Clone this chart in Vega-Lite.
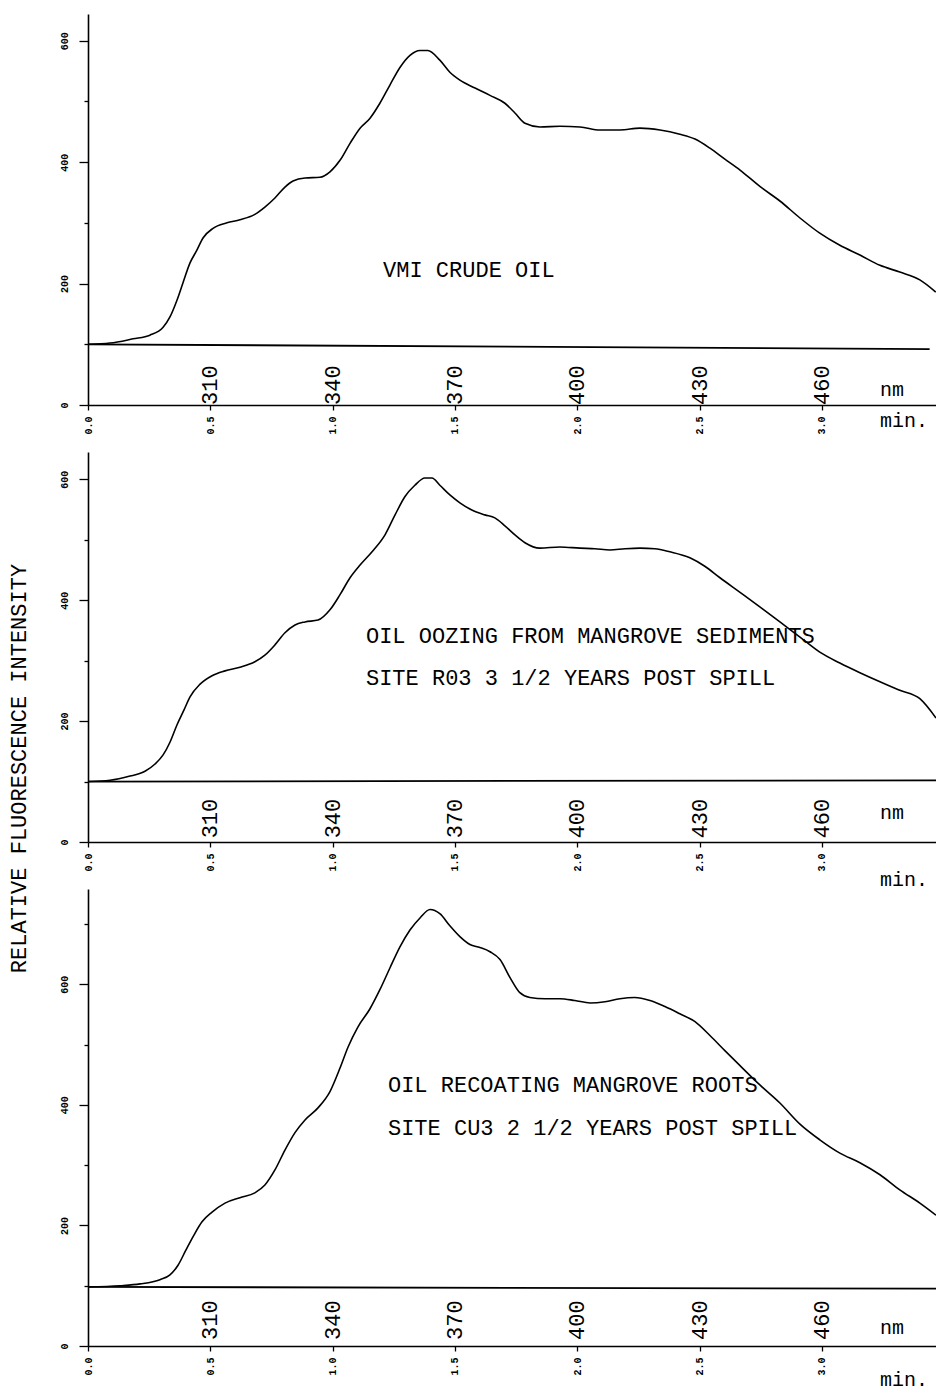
{
  "$schema": "https://vega.github.io/schema/vega-lite/v6.json",
  "background": "white",
  "padding": {"left": 7, "top": 14, "right": 0, "bottom": 0},
  "bounds": "flush",
  "spacing": 47,
  "config": {
    "view": {"stroke": null},
    "axis": {
      "domainColor": "black", "domainWidth": 1.6, "tickColor": "black", "tickWidth": 1.3,
      "labelColor": "black", "labelFont": "Liberation Mono", "labelFontSize": 10, "labelFontWeight": "bold",
      "grid": false, "labelOverlap": false, "labelFlush": false, "titleColor": "black"
    }
  },
  "datasets": {
    "vmi": [
      {"t":0,"v":100},{"t":0.090,"v":102},{"t":0.184,"v":109},{"t":0.253,"v":115},{"t":0.307,"v":128},{"t":0.335,"v":145},{"t":0.364,"v":173},{"t":0.388,"v":201},{"t":0.417,"v":234},{"t":0.445,"v":255},{"t":0.470,"v":275},{"t":0.511,"v":291},{"t":0.568,"v":300},{"t":0.621,"v":305},{"t":0.682,"v":314},{"t":0.723,"v":326},{"t":0.764,"v":341},{"t":0.805,"v":359},{"t":0.838,"v":369},{"t":0.887,"v":374},{"t":0.948,"v":375},{"t":0.989,"v":384},{"t":1.030,"v":403},{"t":1.071,"v":431},{"t":1.112,"v":456},{"t":1.152,"v":472},{"t":1.193,"v":497},{"t":1.234,"v":527},{"t":1.275,"v":556},{"t":1.316,"v":576},{"t":1.357,"v":584},{"t":1.389,"v":584},{"t":1.438,"v":568},{"t":1.479,"v":548},{"t":1.520,"v":535},{"t":1.582,"v":522},{"t":1.643,"v":510},{"t":1.704,"v":497},{"t":1.745,"v":481},{"t":1.786,"v":464},{"t":1.847,"v":458},{"t":1.929,"v":459},{"t":2.011,"v":458},{"t":2.092,"v":453},{"t":2.174,"v":453},{"t":2.256,"v":456},{"t":2.338,"v":453},{"t":2.419,"v":446},{"t":2.481,"v":438},{"t":2.542,"v":423},{"t":2.603,"v":405},{"t":2.665,"v":387},{"t":2.746,"v":360},{"t":2.828,"v":336},{"t":2.910,"v":308},{"t":2.991,"v":283},{"t":3.073,"v":263},{"t":3.155,"v":247},{"t":3.237,"v":230},{"t":3.318,"v":219},{"t":3.400,"v":206},{"t":3.465,"v":186}
    ],
    "r03": [
      {"t":0,"v":100},{"t":0.090,"v":102},{"t":0.172,"v":109},{"t":0.233,"v":117},{"t":0.274,"v":129},{"t":0.307,"v":144},{"t":0.335,"v":165},{"t":0.364,"v":194},{"t":0.392,"v":218},{"t":0.417,"v":240},{"t":0.458,"v":261},{"t":0.507,"v":275},{"t":0.560,"v":283},{"t":0.621,"v":289},{"t":0.682,"v":298},{"t":0.723,"v":309},{"t":0.764,"v":326},{"t":0.805,"v":346},{"t":0.846,"v":359},{"t":0.887,"v":364},{"t":0.940,"v":367},{"t":0.989,"v":384},{"t":1.030,"v":409},{"t":1.071,"v":437},{"t":1.112,"v":458},{"t":1.161,"v":480},{"t":1.214,"v":508},{"t":1.255,"v":541},{"t":1.295,"v":571},{"t":1.336,"v":590},{"t":1.377,"v":602},{"t":1.406,"v":602},{"t":1.438,"v":590},{"t":1.479,"v":574},{"t":1.520,"v":561},{"t":1.569,"v":549},{"t":1.622,"v":541},{"t":1.663,"v":536},{"t":1.704,"v":523},{"t":1.745,"v":508},{"t":1.786,"v":495},{"t":1.847,"v":486},{"t":1.929,"v":488},{"t":2.011,"v":486},{"t":2.072,"v":485},{"t":2.133,"v":483},{"t":2.195,"v":485},{"t":2.256,"v":486},{"t":2.317,"v":485},{"t":2.378,"v":480},{"t":2.460,"v":470},{"t":2.521,"v":456},{"t":2.583,"v":437},{"t":2.665,"v":413},{"t":2.746,"v":389},{"t":2.828,"v":364},{"t":2.910,"v":339},{"t":2.991,"v":314},{"t":3.073,"v":296},{"t":3.155,"v":280},{"t":3.237,"v":265},{"t":3.318,"v":251},{"t":3.400,"v":237},{"t":3.466,"v":205}
    ],
    "cu3": [
      {"t":0,"v":98},{"t":0.131,"v":100},{"t":0.213,"v":103},{"t":0.294,"v":110},{"t":0.335,"v":118},{"t":0.368,"v":134},{"t":0.400,"v":159},{"t":0.433,"v":184},{"t":0.466,"v":206},{"t":0.507,"v":222},{"t":0.560,"v":237},{"t":0.621,"v":246},{"t":0.682,"v":254},{"t":0.723,"v":267},{"t":0.764,"v":292},{"t":0.805,"v":325},{"t":0.846,"v":354},{"t":0.887,"v":375},{"t":0.940,"v":395},{"t":0.989,"v":422},{"t":1.030,"v":461},{"t":1.063,"v":496},{"t":1.103,"v":529},{"t":1.152,"v":559},{"t":1.193,"v":591},{"t":1.234,"v":627},{"t":1.275,"v":662},{"t":1.316,"v":690},{"t":1.357,"v":710},{"t":1.398,"v":724},{"t":1.438,"v":717},{"t":1.479,"v":697},{"t":1.520,"v":679},{"t":1.561,"v":666},{"t":1.602,"v":661},{"t":1.643,"v":654},{"t":1.684,"v":641},{"t":1.725,"v":611},{"t":1.765,"v":586},{"t":1.806,"v":578},{"t":1.868,"v":576},{"t":1.929,"v":576},{"t":1.990,"v":573},{"t":2.052,"v":569},{"t":2.113,"v":571},{"t":2.174,"v":576},{"t":2.235,"v":578},{"t":2.297,"v":573},{"t":2.358,"v":563},{"t":2.419,"v":551},{"t":2.481,"v":538},{"t":2.542,"v":515},{"t":2.603,"v":490},{"t":2.665,"v":465},{"t":2.746,"v":433},{"t":2.828,"v":403},{"t":2.910,"v":368},{"t":2.991,"v":342},{"t":3.073,"v":320},{"t":3.155,"v":304},{"t":3.237,"v":284},{"t":3.318,"v":259},{"t":3.400,"v":237},{"t":3.466,"v":217}
    ],
    "nm": [
      {"t":0.5,"nm":"310"},{"t":1.0,"nm":"340"},{"t":1.5,"nm":"370"},{"t":2.0,"nm":"400"},{"t":2.5,"nm":"430"},{"t":3.0,"nm":"460"}
    ]
  },
  "vconcat": [
    {
      "width": 848, "height": 391,
      "layer": [
        {
          "data": {"name": "vmi"},
          "mark": {"type": "line", "color": "black", "strokeWidth": 1.6, "interpolate": "monotone"},
          "encoding": {
            "x": {"field": "t", "type": "quantitative", "scale": {"domain": [0, 3.466], "nice": false, "zero": false},
                  "axis": {"title": null, "values": [0, 0.5, 1, 1.5, 2, 2.5, 3], "format": ".1f", "labelAngle": 270, "tickSize": 5, "labelPadding": 6}},
            "y": {"field": "v", "type": "quantitative", "scale": {"domain": [0, 644], "nice": false},
                  "axis": {"title": null, "values": [0,50,100,150,200,250,300,350,400,450,500,550,600],
                           "labelExpr": "datum.value % 200 === 0 ? datum.label : ''",
                           "tickSize": {"condition": {"test": "datum.value % 200 === 0", "value": 9}, "value": 4},
                           "labelAngle": 270, "labelAlign": "center", "labelBaseline": "bottom", "labelPadding": 10}}
          }
        },
        {
          "data": {"values": [{}]},
          "mark": {"type": "rule", "color": "black", "strokeWidth": 1.8},
          "encoding": {"x": {"datum": 0, "type": "quantitative"}, "x2": {"datum": 3.44}, "y": {"datum": 100, "type": "quantitative"}, "y2": {"datum": 92}}
        },
        {
          "data": {"name": "nm"},
          "mark": {"type": "text", "angle": 270, "align": "left", "baseline": "middle", "font": "Liberation Mono", "fontSize": 22, "color": "black"},
          "encoding": {"x": {"field": "t", "type": "quantitative"}, "y": {"datum": 0, "type": "quantitative"}, "text": {"field": "nm"}}
        },
        {
          "data": {"values": [{}]},
          "mark": {"type": "text", "align": "center", "baseline": "middle", "font": "Liberation Mono", "fontSize": 20, "color": "black"},
          "encoding": {"x": {"datum": 3.286, "type": "quantitative"}, "y": {"datum": 25, "type": "quantitative"}, "text": {"value": "nm"}}
        },
        {
          "data": {"values": [{}]},
          "mark": {"type": "text", "align": "center", "baseline": "middle", "font": "Liberation Mono", "fontSize": 20, "color": "black"},
          "encoding": {"x": {"datum": 3.335, "type": "quantitative"}, "y": {"datum": -26, "type": "quantitative"}, "text": {"value": "min."}}
        },
        {
          "data": {"values": [{}]},
          "mark": {"type": "text", "align": "left", "baseline": "middle", "font": "Liberation Mono", "fontSize": 22, "color": "black"},
          "encoding": {"x": {"datum": 1.206, "type": "quantitative"}, "y": {"datum": 222, "type": "quantitative"}, "text": {"value": "VMI CRUDE OIL"}}
        }
      ]
    },
    {
      "width": 848, "height": 390,
      "layer": [
        {
          "data": {"name": "r03"},
          "mark": {"type": "line", "color": "black", "strokeWidth": 1.6, "interpolate": "monotone"},
          "encoding": {
            "x": {"field": "t", "type": "quantitative", "scale": {"domain": [0, 3.466], "nice": false, "zero": false},
                  "axis": {"title": null, "values": [0, 0.5, 1, 1.5, 2, 2.5, 3], "format": ".1f", "labelAngle": 270, "tickSize": 5, "labelPadding": 6}},
            "y": {"field": "v", "type": "quantitative", "scale": {"domain": [0, 645], "nice": false},
                  "axis": {"title": "RELATIVE FLUORESCENCE INTENSITY", "titleFont": "Liberation Mono", "titleFontSize": 22, "titleFontWeight": "normal",
                           "titleAngle": 270, "titleX": -70, "titleY": 316, "titleAlign": "center", "titleBaseline": "middle",
                           "values": [0,50,100,150,200,250,300,350,400,450,500,550,600],
                           "labelExpr": "datum.value % 200 === 0 ? datum.label : ''",
                           "tickSize": {"condition": {"test": "datum.value % 200 === 0", "value": 9}, "value": 4},
                           "labelAngle": 270, "labelAlign": "center", "labelBaseline": "bottom", "labelPadding": 10}}
          }
        },
        {
          "data": {"values": [{}]},
          "mark": {"type": "rule", "color": "black", "strokeWidth": 1.8},
          "encoding": {"x": {"datum": 0, "type": "quantitative"}, "x2": {"datum": 3.466}, "y": {"datum": 100, "type": "quantitative"}, "y2": {"datum": 102}}
        },
        {
          "data": {"name": "nm"},
          "mark": {"type": "text", "angle": 270, "align": "left", "baseline": "middle", "font": "Liberation Mono", "fontSize": 22, "color": "black"},
          "encoding": {"x": {"field": "t", "type": "quantitative"}, "y": {"datum": 6, "type": "quantitative"}, "text": {"field": "nm"}}
        },
        {
          "data": {"values": [{}]},
          "mark": {"type": "text", "align": "center", "baseline": "middle", "font": "Liberation Mono", "fontSize": 20, "color": "black"},
          "encoding": {"x": {"datum": 3.286, "type": "quantitative"}, "y": {"datum": 48, "type": "quantitative"}, "text": {"value": "nm"}}
        },
        {
          "data": {"values": [{}]},
          "mark": {"type": "text", "align": "center", "baseline": "middle", "font": "Liberation Mono", "fontSize": 20, "color": "black"},
          "encoding": {"x": {"datum": 3.335, "type": "quantitative"}, "y": {"datum": -63, "type": "quantitative"}, "text": {"value": "min."}}
        },
        {
          "data": {"values": [{}]},
          "mark": {"type": "text", "align": "left", "baseline": "middle", "font": "Liberation Mono", "fontSize": 22, "color": "black"},
          "encoding": {"x": {"datum": 1.136, "type": "quantitative"}, "y": {"datum": 341, "type": "quantitative"}, "text": {"value": "OIL OOZING FROM MANGROVE SEDIMENTS"}}
        },
        {
          "data": {"values": [{}]},
          "mark": {"type": "text", "align": "left", "baseline": "middle", "font": "Liberation Mono", "fontSize": 22, "color": "black"},
          "encoding": {"x": {"datum": 1.136, "type": "quantitative"}, "y": {"datum": 271, "type": "quantitative"}, "text": {"value": "SITE R03 3 1/2 YEARS POST SPILL"}}
        }
      ]
    },
    {
      "width": 848, "height": 457,
      "layer": [
        {
          "data": {"name": "cu3"},
          "mark": {"type": "line", "color": "black", "strokeWidth": 1.6, "interpolate": "monotone"},
          "encoding": {
            "x": {"field": "t", "type": "quantitative", "scale": {"domain": [0, 3.466], "nice": false, "zero": false},
                  "axis": {"title": null, "values": [0, 0.5, 1, 1.5, 2, 2.5, 3], "format": ".1f", "labelAngle": 270, "tickSize": 5, "labelPadding": 6}},
            "y": {"field": "v", "type": "quantitative", "scale": {"domain": [0, 758], "nice": false},
                  "axis": {"title": null, "values": [0,50,100,150,200,250,300,350,400,450,500,550,600,650,700,750],
                           "labelExpr": "datum.value % 200 === 0 ? datum.label : ''",
                           "tickSize": {"condition": {"test": "datum.value % 200 === 0", "value": 9}, "value": 4},
                           "labelAngle": 270, "labelAlign": "center", "labelBaseline": "bottom", "labelPadding": 10}}
          }
        },
        {
          "data": {"values": [{}]},
          "mark": {"type": "rule", "color": "black", "strokeWidth": 1.8},
          "encoding": {"x": {"datum": 0, "type": "quantitative"}, "x2": {"datum": 3.466}, "y": {"datum": 98, "type": "quantitative"}, "y2": {"datum": 95}}
        },
        {
          "data": {"name": "nm"},
          "mark": {"type": "text", "angle": 270, "align": "left", "baseline": "middle", "font": "Liberation Mono", "fontSize": 22, "color": "black"},
          "encoding": {"x": {"field": "t", "type": "quantitative"}, "y": {"datum": 10, "type": "quantitative"}, "text": {"field": "nm"}}
        },
        {
          "data": {"values": [{}]},
          "mark": {"type": "text", "align": "center", "baseline": "middle", "font": "Liberation Mono", "fontSize": 20, "color": "black"},
          "encoding": {"x": {"datum": 3.286, "type": "quantitative"}, "y": {"datum": 30, "type": "quantitative"}, "text": {"value": "nm"}}
        },
        {
          "data": {"values": [{}]},
          "mark": {"type": "text", "align": "center", "baseline": "middle", "font": "Liberation Mono", "fontSize": 20, "color": "black"},
          "encoding": {"x": {"datum": 3.335, "type": "quantitative"}, "y": {"datum": -57, "type": "quantitative"}, "text": {"value": "min."}}
        },
        {
          "data": {"values": [{}]},
          "mark": {"type": "text", "align": "left", "baseline": "middle", "font": "Liberation Mono", "fontSize": 22, "color": "black"},
          "encoding": {"x": {"datum": 1.226, "type": "quantitative"}, "y": {"datum": 433, "type": "quantitative"}, "text": {"value": "OIL RECOATING MANGROVE ROOTS"}}
        },
        {
          "data": {"values": [{}]},
          "mark": {"type": "text", "align": "left", "baseline": "middle", "font": "Liberation Mono", "fontSize": 22, "color": "black"},
          "encoding": {"x": {"datum": 1.226, "type": "quantitative"}, "y": {"datum": 362, "type": "quantitative"}, "text": {"value": "SITE CU3 2 1/2 YEARS POST SPILL"}}
        }
      ]
    }
  ]
}
